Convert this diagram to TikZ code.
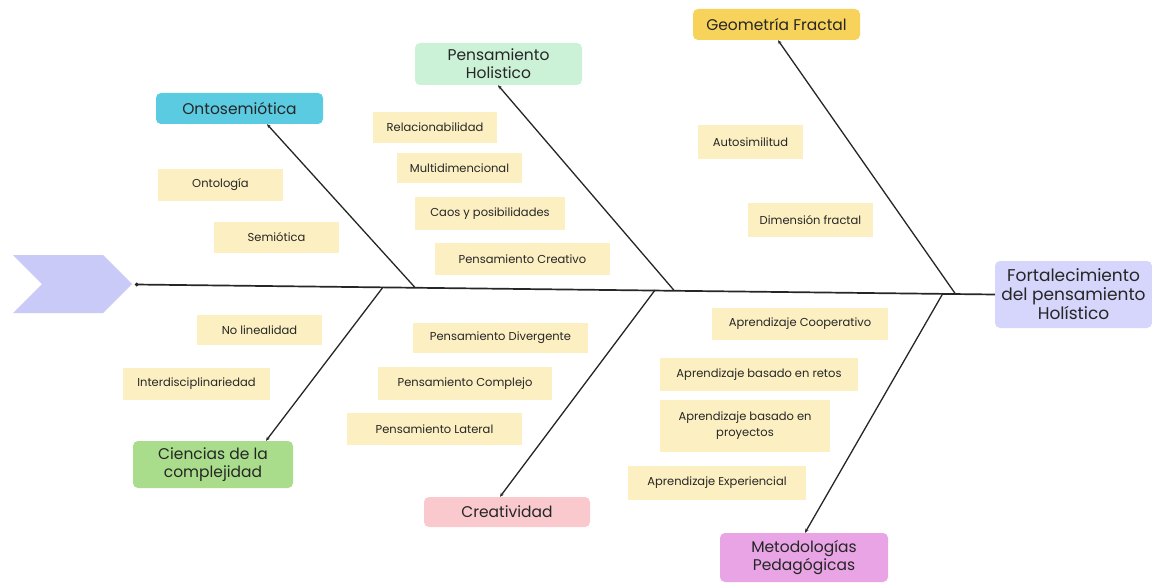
\documentclass[tikz,border=0pt]{standalone}
\usepackage{fontspec}
\setmainfont{Poppins}
\usetikzlibrary{arrows.meta}

\definecolor{ink}{HTML}{262626}
\definecolor{note}{HTML}{FCF0C2}
\definecolor{cOnto}{HTML}{5BCBE2}
\definecolor{cHolis}{HTML}{CBF1D7}
\definecolor{cGeo}{HTML}{F7D35C}
\definecolor{cFort}{HTML}{D6D5FB}
\definecolor{cCien}{HTML}{A9DD8B}
\definecolor{cCrea}{HTML}{F9C9CE}
\definecolor{cMeto}{HTML}{E8A4E4}
\definecolor{cHead}{HTML}{CACAF9}

\tikzset{
  cat/.style={rounded corners=5pt, inner sep=2pt, align=center, text=ink,
    font=\fontsize{15.5}{18}\selectfont},
  idea/.style={fill=note, inner sep=2pt, align=center, text=ink,
    font=\fontsize{11.5}{16}\selectfont},
  bone/.style={draw=ink, line width=1.3pt, -{Stealth[length=4pt,width=3.5pt]}},
  spine/.style={draw=ink, line width=1.7pt, -{Circle[length=3.5pt]}}
}

\begin{document}
\begin{tikzpicture}[x=1pt, y=-1pt]
  \useasboundingbox[fill=white] (0,0) rectangle (1152,583);

  % head of the fish
  \fill[cHead] (13,255) -- (103,255) -- (132,284) -- (103,313) -- (13,313) -- (42,284) -- cycle;
  \coordinate (head) at (135,284.5);

  % effect
  \node[cat, fill=cFort, minimum width=157pt, minimum height=67pt,
        font=\fontsize{17}{19}\selectfont] (fort) at (1073.5,294.5)
    {Fortalecimiento\\del pensamiento\\Holístico};

  % categories
  \node[cat, fill=cOnto,  minimum width=167pt, minimum height=31pt] (onto)  at (239.5,108.5) {Ontosemiótica};
  \node[cat, fill=cHolis, minimum width=167pt, minimum height=42pt] (holis) at (498.5,64)    {Pensamiento\\Holistico};
  \node[cat, fill=cGeo,   minimum width=167pt, minimum height=31pt] (geo)   at (776.5,24.5)  {Geometría Fractal};
  \node[cat, fill=cCien,  minimum width=160pt, minimum height=47pt] (cien)  at (213,464.5)   {Ciencias de la\\complejidad};
  \node[cat, fill=cCrea,  minimum width=166pt, minimum height=30pt] (crea)  at (507,512)     {Creatividad};
  \node[cat, fill=cMeto,  minimum width=168pt, minimum height=49pt] (meto)  at (804,557.5)   {Metodologías\\Pedagógicas};

  % causes
  \node[idea, minimum width=125pt, minimum height=32pt] (ontologia) at (220.5,185)   {Ontología};
  \node[idea, minimum width=125pt, minimum height=31pt] (semiotica) at (276.5,237.5) {Semiótica};
  \node[idea, minimum width=124pt, minimum height=31pt] (relac)     at (435,127.5)   {Relacionabilidad};
  \node[idea, minimum width=125pt, minimum height=30pt] (multi)     at (459.5,168)   {Multidimencional};
  \node[idea, minimum width=150pt, minimum height=33pt] (caos)      at (490,213.5)   {Caos y posibilidades};
  \node[idea, minimum width=175pt, minimum height=32pt] (pcrea)     at (522.5,259)   {Pensamiento Creativo};
  \node[idea, minimum width=105pt, minimum height=34pt] (auto)      at (750.5,142)   {Autosimilitud};
  \node[idea, minimum width=125pt, minimum height=34pt] (dim)       at (810.5,220)   {Dimensión fractal};
  \node[idea, minimum width=125pt, minimum height=30pt] (nolin)     at (259.5,330)   {No linealidad};
  \node[idea, minimum width=147pt, minimum height=32pt] (inter)     at (196.5,384)   {Interdisciplinariedad};
  \node[idea, minimum width=175pt, minimum height=30pt] (pdiv)      at (500.5,338)   {Pensamiento Divergente};
  \node[idea, minimum width=174pt, minimum height=33pt] (pcomp)     at (465,383.5)   {Pensamiento Complejo};
  \node[idea, minimum width=175pt, minimum height=32pt] (plat)      at (434.5,429)   {Pensamiento Lateral};
  \node[idea, minimum width=176pt, minimum height=32pt] (acoop)     at (800,324)     {Aprendizaje Cooperativo};
  \node[idea, minimum width=198pt, minimum height=33pt] (aretos)    at (759,374.5)   {Aprendizaje basado en retos};
  \node[idea, minimum width=170pt, minimum height=52pt] (aproy)     at (745,426)     {Aprendizaje basado en\\proyectos};
  \node[idea, minimum width=178pt, minimum height=34pt] (aexp)      at (717,483)     {Aprendizaje Experiencial};

  % joints on the spine
  \coordinate (jOnto)  at (415,287.5);
  \coordinate (jCien)  at (383,287.2);
  \coordinate (jHolis) at (674,290.3);
  \coordinate (jCrea)  at (655,290.1);
  \coordinate (jGeo)   at (955,293.3);
  \coordinate (jMeto)  at (943,293.2);

  % spine
  \draw[spine] (fort.west) -- (head);

  % bones
  \draw[bone] (jOnto)  -- (onto.south  -| 267,0);
  \draw[bone] (jHolis) -- (holis.south -| 498,0);
  \draw[bone] (jGeo)   -- (geo.south   -| 778,0);
  \draw[bone] (jCien)  -- (cien.north  -| 266,0);
  \draw[bone] (jCrea)  -- (crea.north  -| 500,0);
  \draw[bone] (jMeto)  -- (meto.north  -| 805,0);
\end{tikzpicture}
\end{document}
